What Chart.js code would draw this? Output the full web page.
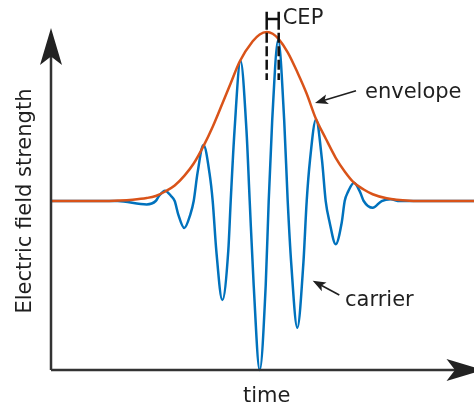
<!DOCTYPE html>
<html>
<head>
<meta charset="utf-8">
<script src="https://cdn.jsdelivr.net/npm/chart.js@4/dist/chart.umd.min.js"></script>
<style>
  html, body { margin: 0; padding: 0; background: #fff; }
  #wrap { width: 474px; height: 406px; position: relative; }
</style>
</head>
<body>
<div id="wrap"><canvas id="pulse"></canvas></div>
<script>
// time axis in arbitrary units, 0 = envelope maximum
const carrierTime = [-21.6, -16.7, -14.9, -12.0, -11.1,
  -10.77, -10.17, -9.57, -9.2,
  -8.84, -8.24, -7.64, -7.3,
  -6.92, -6.32, -5.72, -5.4,
  -5.04, -4.44, -3.84, -3.6,
  -3.22, -2.62, -2.02, -1.7,
  -1.3, -0.7, -0.1, 0.2,
  0.55, 1.15, 1.75, 2.1,
  2.46, 3.06, 3.66, 4.0,
  4.33, 4.93, 5.53, 5.9,
  6.3, 6.9, 7.5, 7.8,
  8.13, 8.73, 9.33, 9.7,
  10.6, 11.5, 12.4, 13.3, 20.8];
const carrierField = [0, 0, 0, -0.02, 0,
  0.03, 0.061, 0.03, 0,
  -0.08, -0.16, -0.08, 0,
  0.165, 0.331, 0.165, 0,
  -0.293, -0.586, -0.293, 0,
  0.415, 0.83, 0.415, 0,
  -0.5, -1.0, -0.5, 0,
  0.477, 0.953, 0.477, 0,
  -0.375, -0.75, -0.375, 0,
  0.242, 0.483, 0.242, 0,
  -0.128, -0.256, -0.128, 0,
  0.054, 0.108, 0.054, 0,
  -0.04, 0, 0.01, 0, 0];

const envelopeTime = [-21.6, -16.7, -14.7, -13.4, -12.0, -11.1, -10.2, -9.2, -8.2, -7.3, -6.3, -5.4, -4.4,
  -3.6, -2.7, -1.4, -0.7, 0, 0.6, 1.2, 2.1, 3.1, 4.0, 4.9, 5.9, 6.9, 7.8, 8.7, 9.7, 10.6, 12.0, 14.3, 16.3, 20.8];
const envelopeField = [0, 0, 0.003, 0.008, 0.018, 0.03, 0.055, 0.092, 0.152, 0.222, 0.328, 0.44, 0.582,
  0.697, 0.826, 0.945, 0.986, 1.0, 0.99, 0.958, 0.88, 0.758, 0.635, 0.49, 0.37, 0.256, 0.175, 0.11, 0.068, 0.04, 0.016, 0.002, 0, 0];

// carrier-envelope phase: envelope peak vs nearest carrier peak
const cepTimes = [0, 1.2];

const xTitle = 'time';
const yTitle = 'Electric field strength';
const notes = [
  { text: 'envelope', at: [9.83, 0.608], arrowFrom: [8.93, 0.653], arrowTo: [4.83, 0.58] },
  { text: 'carrier', at: [7.83, -0.62], arrowFrom: [7.26, -0.556], arrowTo: [4.6, -0.472] }
];

const FONT = '21px "DejaVu Sans", sans-serif';
const INK = '#1f1f1f';

function toPoints(xs, ys) {
  return xs.map((x, i) => ({ x: x, y: ys[i] }));
}

// filled arrowhead with a small notch at the back
function arrowHead(ctx, tipX, tipY, angle, len, half, notch) {
  ctx.save();
  ctx.translate(tipX, tipY);
  ctx.rotate(angle);
  ctx.beginPath();
  ctx.moveTo(0, 0);
  ctx.lineTo(-len, -half);
  ctx.lineTo(-len + notch, 0);
  ctx.lineTo(-len, half);
  ctx.closePath();
  ctx.fill();
  ctx.restore();
}

const decorations = {
  id: 'decorations',
  afterDatasetsDraw(chart) {
    const { ctx, chartArea, scales } = chart;
    const xs = scales.x, ys = scales.y;
    const left = chartArea.left, bottom = chartArea.bottom;

    ctx.save();
    ctx.strokeStyle = '#333';
    ctx.fillStyle = '#222';

    // axes with arrows
    ctx.lineWidth = 2.5;
    ctx.beginPath();
    ctx.moveTo(left, bottom);
    ctx.lineTo(left, chartArea.top + 20);
    ctx.moveTo(left, bottom);
    ctx.lineTo(chartArea.right - 10, bottom);
    ctx.stroke();
    arrowHead(ctx, left, chartArea.top, -Math.PI / 2, 37, 11, 8.5);
    arrowHead(ctx, chartArea.right + 9.5, bottom, 0, 37, 11, 8.5);

    // CEP marker
    const cx0 = xs.getPixelForValue(cepTimes[0]);
    const cx1 = xs.getPixelForValue(cepTimes[1]);
    const yTop = ys.getPixelForValue(1.12);
    const yBot = ys.getPixelForValue(0.716);
    const yBar = ys.getPixelForValue(1.078);
    ctx.strokeStyle = '#111';
    ctx.lineWidth = 2.5;
    ctx.beginPath();
    ctx.moveTo(cx0, yBar);
    ctx.lineTo(cx1, yBar);
    ctx.moveTo(cx0, yTop);
    ctx.lineTo(cx0, yTop + 18);
    ctx.moveTo(cx1, yTop);
    ctx.lineTo(cx1, yTop + 18);
    ctx.stroke();
    ctx.setLineDash([10, 3.5]);
    ctx.beginPath();
    ctx.moveTo(cx0, yTop + 21);
    ctx.lineTo(cx0, yBot);
    ctx.moveTo(cx1, yTop + 21);
    ctx.lineTo(cx1, yBot);
    ctx.stroke();
    ctx.setLineDash([]);

    ctx.font = FONT;
    ctx.fillStyle = INK;
    ctx.textBaseline = 'alphabetic';
    ctx.textAlign = 'left';
    ctx.fillText('CEP', cx1 + 4, ys.getPixelForValue(1.05));

    // annotations
    ctx.strokeStyle = INK;
    ctx.lineWidth = 1.6;
    notes.forEach(n => {
      const fx = xs.getPixelForValue(n.arrowFrom[0]), fy = ys.getPixelForValue(n.arrowFrom[1]);
      const tx = xs.getPixelForValue(n.arrowTo[0]), ty = ys.getPixelForValue(n.arrowTo[1]);
      const ang = Math.atan2(ty - fy, tx - fx);
      ctx.beginPath();
      ctx.moveTo(fx, fy);
      ctx.lineTo(tx - 8 * Math.cos(ang), ty - 8 * Math.sin(ang));
      ctx.stroke();
      arrowHead(ctx, tx, ty, ang, 13, 5, 3);
      ctx.fillText(n.text, xs.getPixelForValue(n.at[0]), ys.getPixelForValue(n.at[1]));
    });

    // axis titles
    ctx.textAlign = 'center';
    ctx.fillText(xTitle, xs.getPixelForValue(0), bottom + 31.5);
    ctx.save();
    ctx.translate(left - 20, ys.getPixelForValue(0));
    ctx.rotate(-Math.PI / 2);
    ctx.fillText(yTitle, 0, 0);
    ctx.restore();

    ctx.restore();
  }
};

new Chart(document.getElementById('pulse'), {
  type: 'line',
  data: {
    datasets: [
      {
        label: 'envelope',
        data: toPoints(envelopeTime, envelopeField),
        borderColor: '#D95319',
        borderWidth: 2.5,
        pointRadius: 0,
        cubicInterpolationMode: 'monotone',
        clip: false
      },
      {
        label: 'carrier',
        data: toPoints(carrierTime, carrierField),
        borderColor: '#0072BD',
        borderWidth: 2.5,
        pointRadius: 0,
        cubicInterpolationMode: 'monotone',
        clip: false
      }
    ]
  },
  options: {
    responsive: true,
    maintainAspectRatio: false,
    animation: false,
    layout: { padding: { left: 51, right: 0, top: 28, bottom: 36 } },
    plugins: { legend: { display: false }, tooltip: { enabled: false } },
    scales: {
      x: { type: 'linear', min: -21.57, max: 20.73, display: false },
      y: { min: -1, max: 1.024, display: false }
    }
  },
  plugins: [decorations]
});
</script>
</body>
</html>
